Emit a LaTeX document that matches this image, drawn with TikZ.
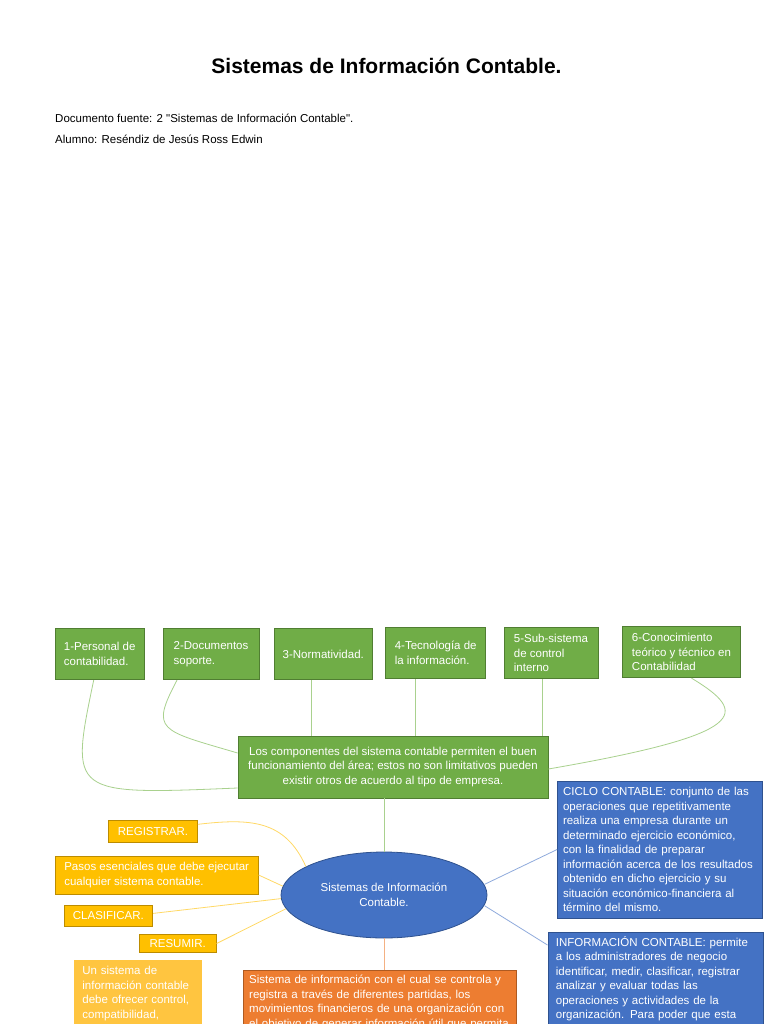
\documentclass[tikz,border=0pt]{standalone}
\usepackage{fontspec}
\setmainfont{Liberation Sans}[Ligatures=TeXOff]
\usetikzlibrary{shapes.geometric,positioning}

\definecolor{verde}{HTML}{70AD47}
\definecolor{verdeBorde}{HTML}{507E32}
\definecolor{verdeLinea}{HTML}{A9D18E}
\definecolor{azul}{HTML}{4472C4}
\definecolor{azulBorde}{HTML}{2F528F}
\definecolor{azulLinea}{HTML}{8FAADC}
\definecolor{amarillo}{HTML}{FFC000}
\definecolor{amarilloBorde}{HTML}{BC8C00}
\definecolor{amarilloLinea}{HTML}{FFD966}
\definecolor{amarilloClaro}{HTML}{FFC540}
\definecolor{naranja}{HTML}{ED7D31}
\definecolor{naranjaBorde}{HTML}{AE5A21}
\definecolor{naranjaLinea}{HTML}{F4B183}

\begin{document}
\begin{tikzpicture}[x=1pt,y=-1pt]
  \tikzstyle{texto}=[font=\fontsize{11.5}{14.5}\selectfont]
  \tikzstyle{caja}=[texto,draw,text=white,line width=0.8pt,inner sep=0pt]
  \tikzstyle{verdebox}=[caja,fill=verde,draw=verdeBorde,align=left,minimum height=51.5pt]
  \tikzstyle{paso}=[caja,fill=amarillo,draw=amarilloBorde,align=center]
  \tikzstyle{azulbox}=[caja,fill=azul,draw=azulBorde,align=left,inner xsep=8pt]
  \tikzstyle{lineaverde}=[draw=verdeLinea,line width=0.8pt]
  \tikzstyle{lineaamarilla}=[draw=amarilloLinea,line width=0.8pt]
  \tikzstyle{lineaazul}=[draw=azulLinea,line width=0.8pt]
  \tikzstyle{lineanaranja}=[draw=naranjaLinea,line width=0.8pt]

  \useasboundingbox (0,0) rectangle (768,1024);
  \clip (0,0) rectangle (768,1024);
  \fill[white] (0,0) rectangle (768,1024);

  % encabezado
  \node[font=\fontsize{21}{25}\selectfont\bfseries,anchor=base,inner sep=0pt] (titulo) at (386.5,74) {Sistemas de Información Contable.};
  \node[texto,anchor=base west,inner sep=0pt] (fuente) at (55,122.5) {Documento fuente: 2 "Sistemas de Información Contable".};
  \node[texto,anchor=base west,inner sep=0pt] (alumno) at (55,143.5) {Alumno: Reséndiz de Jesús Ross Edwin};

  % componentes
  \node[verdebox,minimum width=89pt] (b1) at (99.7,654) {1-Personal de\\contabilidad.};
  \node[verdebox,minimum width=96pt] (b2) at (211,654) {2-Documentos\\soporte.};
  \node[verdebox,minimum width=98pt] (b3) at (323.3,654) {3-Normatividad.};
  \node[verdebox,minimum width=100pt] (b4) at (435.7,653) {4-Tecnología de\\la información.};
  \node[verdebox,minimum width=94pt] (b5) at (551,653) {5-Sub-sistema\\de control\\interno};
  \node[verdebox,minimum width=118pt] (b6) at (681.5,652) {6-Conocimiento\\teórico y técnico en\\Contabilidad};

  \node[caja,fill=verde,draw=verdeBorde,align=center,minimum width=310pt,minimum height=62pt] (componentes) at (393,767)
    {Los componentes del sistema contable permiten el buen\\funcionamiento del área; estos no son limitativos pueden\\existir otros de acuerdo al tipo de empresa.};

  % centro
  \node[ellipse,fill=azul,draw=azulBorde,texto,text=white,align=center,minimum width=206pt,minimum height=86pt,inner sep=0pt,line width=0.8pt] (sic) at (384,895)
    {Sistemas de Información\\Contable.};

  % pasos
  \node[paso,minimum width=89pt,minimum height=22.5pt] (registrar) at (153,831.3) {REGISTRAR.};
  \node[paso,align=left,minimum width=203pt,minimum height=38pt] (pasos) at (156.7,875) {Pasos esenciales que debe ejecutar\\cualquier sistema contable.};
  \node[paso,minimum width=88.5pt,minimum height=21pt] (clasificar) at (108.4,915.4) {CLASIFICAR.};
  \node[paso,minimum width=77pt,minimum height=18.5pt] (resumir) at (177.7,943.5) {RESUMIR.};

  \node[caja,fill=amarilloClaro,draw=amarilloClaro,anchor=north west,text width=111pt,inner xsep=8pt,inner ysep=6pt,align=left] (nota) at (74,960)
    {Un sistema de\\información contable\\debe ofrecer control,\\compatibilidad,\\\mbox{}};

  \node[caja,fill=naranja,draw=naranjaBorde,anchor=north west,text width=262pt,inner xsep=5.5pt,inner ysep=5pt,align=left] (sistema) at (243.3,970)
    {Sistema de información con el cual se controla y\\registra a través de diferentes partidas, los\\movimientos financieros de una organización con\\el objetivo de generar información útil que permita\\\mbox{}};

  % definiciones
  \node[azulbox,text width=194pt,inner xsep=5.5pt,minimum height=137pt] (ciclo) at (660,849.5)
    {CICLO CONTABLE: conjunto de las\\operaciones que repetitivamente\\realiza una empresa durante un\\determinado ejercicio económico,\\con la finalidad de preparar\\información acerca de los resultados\\obtenido en dicho ejercicio y su\\situación económico-financiera al\\término del mismo.};
  \node[azulbox,anchor=north west,text width=199pt,inner ysep=4pt] (info) at (547.5,932)
    {INFORMACIÓN CONTABLE: permite\\a los administradores de negocio\\identificar, medir, clasificar, registrar\\analizar y evaluar todas las\\operaciones y actividades de la\\organización. Para poder que esta\\\mbox{}};

  % conectores
  \draw[lineaverde] ([xshift=-6pt]b1.south) .. controls +(-24,115) and +(-168,7) .. ([yshift=-21pt]componentes.west);
  \draw[lineaverde] ([xshift=-34pt]b2.south) .. controls +(-27,51) and +(-78,-23) .. ([yshift=14pt]componentes.west);
  \draw[lineaverde] ([xshift=-12pt]b3.south) -- ([xshift=-12pt]b3.south |- componentes.north);
  \draw[lineaverde] ([xshift=-20pt]b4.south) -- ([xshift=-20pt]b4.south |- componentes.north);
  \draw[lineaverde] ([xshift=-9pt]b5.south) -- ([xshift=-9pt]b5.south |- componentes.north);
  \draw[lineaverde] ([xshift=10pt]b6.south) .. controls +(58,35) and +(202,-35) .. ([yshift=-2pt]componentes.east);
  \draw[lineaverde] (sic.north |- componentes.south) -- (sic.north);

  \draw[lineaamarilla] ([yshift=7pt]registrar.east) .. controls +(52,-6) and +(-21,-47) .. (sic.160);
  \draw[lineaamarilla] (pasos.east) -- (sic.175);
  \draw[lineaamarilla] ([yshift=2pt]clasificar.east) -- (sic.182);
  \draw[lineaamarilla] (resumir.east) -- (sic.188);

  \draw[lineaazul] (sic.6) -- (ciclo.west);
  \draw[lineaazul] (sic.354) -- ([yshift=-13pt]info.north west);
  \draw[lineanaranja] (sic.south) -- (sic.south |- sistema.north);
\end{tikzpicture}
\end{document}
